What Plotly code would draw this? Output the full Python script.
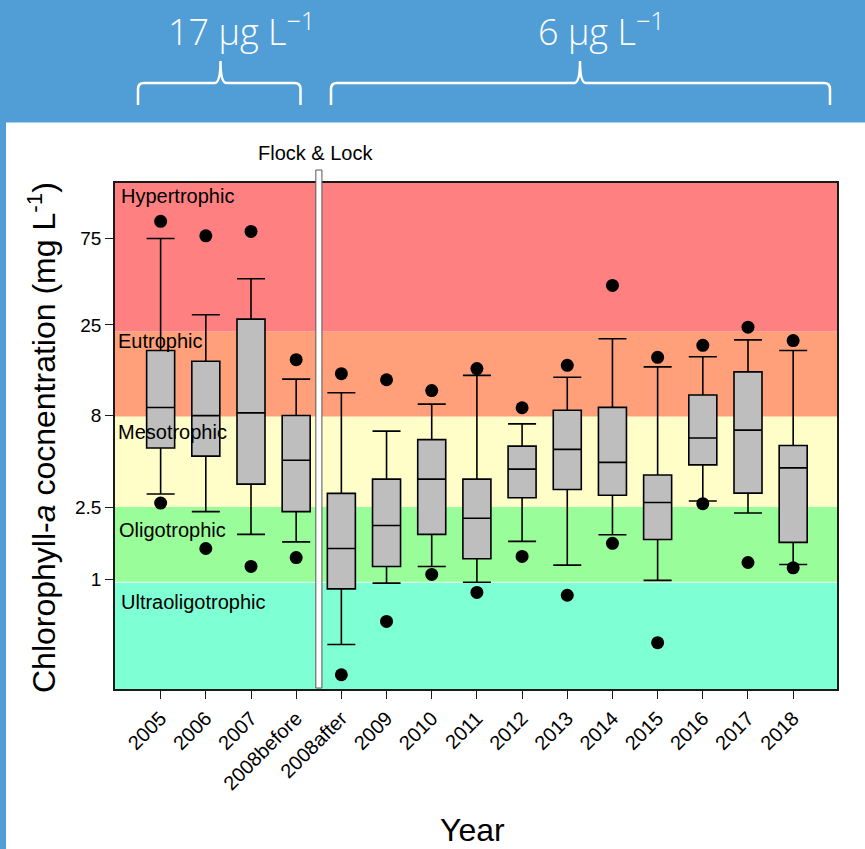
import numpy as np
import plotly.graph_objects as go

# ---------------- data ----------------
years = ["2005", "2006", "2007", "2008before", "2008after", "2009", "2010", "2011",
         "2012", "2013", "2014", "2015", "2016", "2017", "2018"]
upper_whisker = [74.5, 28.4, 44.8, 12.6, 10.6, 6.53, 9.18, 13.2, 7.15, 12.9, 21.0, 14.7, 16.7, 20.7, 18.1]
q3 = [18.1, 15.8, 26.9, 7.95, 2.97, 3.56, 5.86, 3.56, 5.40, 8.5, 8.81, 3.75, 10.3, 13.8, 5.44]
median = [8.8, 7.94, 8.22, 4.52, 1.48, 1.98, 3.56, 2.17, 4.04, 5.18, 4.40, 2.65, 5.99, 6.61, 4.10]
q1 = [5.27, 4.76, 3.34, 2.36, 0.889, 1.18, 1.77, 1.30, 2.81, 3.12, 2.90, 1.66, 4.26, 2.98, 1.60]
lower_whisker = [2.95, 2.36, 1.77, 1.61, 0.44, 0.956, 1.18, 0.966, 1.62, 1.20, 1.76, 0.99, 2.70, 2.32, 1.21]
max_point = [92.6, 77.1, 81.5, 16.1, 13.5, 12.5, 10.9, 14.4, 8.77, 15.0, 41.2, 16.6, 19.3, 24.3, 20.5]
min_point = [2.63, 1.48, 1.18, 1.32, 0.30, 0.589, 1.066, 0.85, 1.34, 0.82, 1.58, 0.45, 2.61, 1.24, 1.16]

y_tick_values = [1, 2.5, 8, 25, 75]
y_tick_labels = ["1", "2.5", "8", "25", "75"]

band_names = ["Ultraoligotrophic", "Oligotrophic", "Mesotrophic", "Eutrophic", "Hypertrophic"]
band_edges = [0.966, 2.51, 7.85, 23.0]
band_label_values = [0.757, 1.86, 6.49, 20.5, 128]
band_colors = ["#7FFFD4", "#99FD99", "#FFFDC8", "#FFA07A", "#FF8080"]

flock_position = 3.5          # between 2008before and 2008after
group_labels = ["17 µg L<sup>−1</sup>", "6 µg L<sup>−1</sup>"]

# ---------------- layout geometry ----------------
W, H = 865, 849
ML, MR, MT, MB = 115, 28, 183, 160
PW, PH = W - ML - MR, H - MT - MB
def px(x):
    return (x - ML) / PW
def py(y):
    return (H - MB - y) / PH

BLUE = "#519ED7"
FONT = "Arial, Liberation Sans, sans-serif"
x_range = [-1.01, 14.97]
y_range = [-0.601, 2.177]

positions = list(range(len(years)))

fig = go.Figure()
fig.add_trace(go.Box(
    x=positions, q1=q1, median=median, q3=q3,
    lowerfence=lower_whisker, upperfence=upper_whisker,
    fillcolor="#BEBEBE", line=dict(color="black", width=1.6),
    width=0.62, whiskerwidth=1, boxpoints=False, showlegend=False,
    hoverinfo="skip"))
for pts in (max_point, min_point):
    fig.add_trace(go.Scatter(
        x=positions, y=pts, mode="markers",
        marker=dict(color="black", size=13, line=dict(width=0)),
        showlegend=False, hoverinfo="skip"))

shapes = []
# white page area over blue background
shapes.append(dict(type="rect", xref="paper", yref="paper",
                   x0=px(6), x1=px(W + 20), y0=py(H + 20), y1=py(122.5),
                   fillcolor="white", line=dict(width=0), layer="below"))
# trophic bands
lo = 10 ** y_range[0]
hi = 10 ** y_range[1]
edges = [lo] + band_edges + [hi]
for i, c in enumerate(band_colors):
    shapes.append(dict(type="rect", xref="paper", yref="y",
                       x0=0, x1=1, y0=edges[i], y1=edges[i + 1],
                       fillcolor=c, line=dict(width=0), layer="below"))
shapes.append(dict(type="line", xref="paper", yref="y", x0=0, x1=1,
                   y0=band_edges[0], y1=band_edges[0],
                   line=dict(color="#E6FFF2", width=1), layer="below"))
# Flock & Lock bar
shapes.append(dict(type="rect", xref="x", yref="paper",
                   x0=flock_position - 0.065, x1=flock_position + 0.07,
                   y0=py(688), y1=py(170),
                   fillcolor="white", line=dict(color="#555555", width=1), layer="above"))

# braces in banner
def brace(x0, x1, tip):
    yb, yh, yt = 105, 83, 61
    pts = [
        ("M", [(x0, yb)]), ("L", [(x0, yh + 6)]), ("Q", [(x0, yh), (x0 + 6, yh)]),
        ("L", [(tip - 6, yh)]), ("Q", [(tip, yh), (tip, yt)]),
        ("Q", [(tip, yh), (tip + 6, yh)]), ("L", [(x1 - 6, yh)]),
        ("Q", [(x1, yh), (x1, yh + 6)]), ("L", [(x1, yb)]),
    ]
    s = ""
    for cmd, ps in pts:
        s += cmd + " ".join(f"{px(a):.5f},{py(b):.5f}" for a, b in ps) + " "
    return dict(type="path", xref="paper", yref="paper", path=s.strip(),
                line=dict(color="white", width=2.5), layer="above")
shapes.append(brace(138, 300.5, 220.5))
shapes.append(brace(331, 830, 580))

annotations = []
band_label_x = [119, 117, 116, 116, 119]
for name, v, lx in zip(band_names, band_label_values, band_label_x):
    annotations.append(dict(text=name, xref="paper", yref="y", x=px(lx), y=np.log10(v),
                            xanchor="left", yanchor="middle", showarrow=False,
                            font=dict(family=FONT, size=20, color="black")))
annotations.append(dict(text="Flock & Lock", xref="x", yref="paper", x=flock_position - 0.07,
                        y=py(153), xanchor="center", yanchor="middle", showarrow=False,
                        font=dict(family=FONT, size=20, color="black")))
annotations.append(dict(text="Chlorophyll-<i>a</i> cocnentration (mg L<sup>-1</sup>)",
                        xref="paper", yref="paper", x=px(42), y=py(438), textangle=-90,
                        xanchor="center", yanchor="middle", showarrow=False,
                        font=dict(family=FONT, size=32, color="black")))
annotations.append(dict(text="Year", xref="paper", yref="paper", x=px(472), y=py(830),
                        xanchor="center", yanchor="middle", showarrow=False,
                        font=dict(family=FONT, size=32, color="black")))
for txt, cx in zip(group_labels, [241, 601]):
    annotations.append(dict(text=txt, xref="paper", yref="paper", x=px(cx), y=py(30),
                            xanchor="center", yanchor="middle", showarrow=False,
                            font=dict(family="Open Sans, sans-serif", size=36, color="white", weight=300)))

fig.update_layout(
    width=W, height=H, margin=dict(l=ML, r=MR, t=MT, b=MB, autoexpand=False),
    paper_bgcolor=BLUE, plot_bgcolor="white",
    shapes=shapes, annotations=annotations, showlegend=False,
    xaxis=dict(range=x_range, tickvals=positions, ticktext=years, tickangle=-45,
               showgrid=False, zeroline=False, showline=True, mirror=True,
               linecolor="#1a1a1a", linewidth=1.5, ticks="outside", ticklen=8,
               tickcolor="#1a1a1a", tickwidth=1.2,
               tickfont=dict(family=FONT, size=20, color="black")),
    yaxis=dict(type="log", range=y_range, tickvals=y_tick_values, ticktext=y_tick_labels,
               showgrid=False, zeroline=False, showline=True, mirror=True,
               linecolor="#1a1a1a", linewidth=1.5, ticks="outside", ticklen=8,
               tickcolor="#1a1a1a", tickwidth=1.2,
               tickfont=dict(family=FONT, size=19, color="black")),
)

fig.write_html("out.html")
